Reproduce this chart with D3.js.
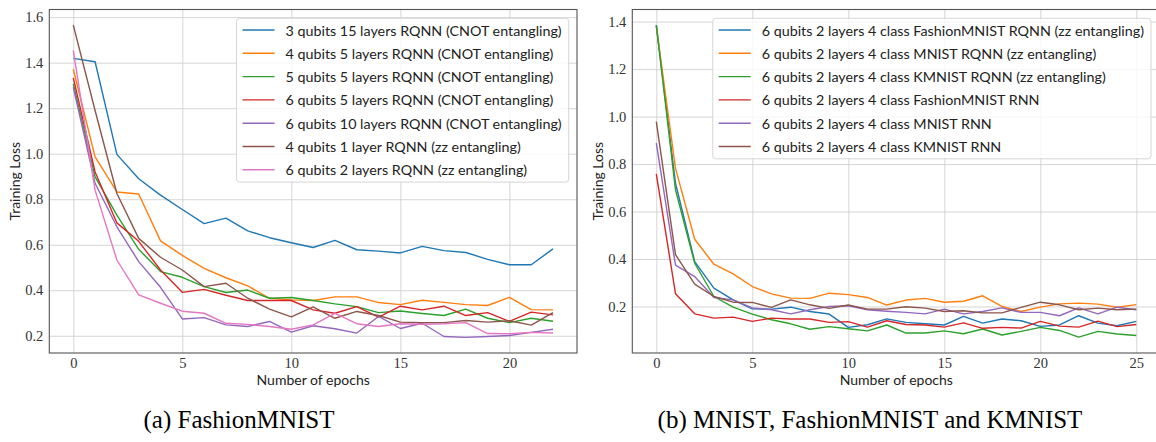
<!DOCTYPE html>
<html><head><meta charset="utf-8">
<script src="https://cdn.jsdelivr.net/npm/d3@7"></script>
<style>body{margin:0;background:#fff}svg{display:block}</style>
</head><body><svg id="c" width="1156" height="442"></svg>
<script>
// ---------- Data: panel (a) FashionMNIST ----------
const epochsA = [0,1,2,3,4,5,6,7,8,9,10,11,12,13,14,15,16,17,18,19,20,21,22];
const seriesNamesA = [
  "3 qubits 15 layers RQNN (CNOT entangling)",
  "4 qubits 5 layers RQNN (CNOT entangling)",
  "5 qubits 5 layers RQNN (CNOT entangling)",
  "6 qubits 5 layers RQNN (CNOT entangling)",
  "6 qubits 10 layers RQNN (CNOT entangling)",
  "4 qubits 1 layer RQNN (zz entangling)",
  "6 qubits 2 layers RQNN (zz entangling)"
];
const lossA_3q15l = [1.419,1.404,0.997,0.890,0.818,0.755,0.693,0.717,0.661,0.631,0.609,0.588,0.619,0.578,0.572,0.564,0.593,0.574,0.566,0.536,0.512,0.512,0.582];
const lossA_4q5l  = [1.371,0.986,0.832,0.823,0.617,0.553,0.496,0.455,0.419,0.365,0.358,0.355,0.371,0.371,0.346,0.337,0.356,0.347,0.337,0.333,0.369,0.315,0.314];
const lossA_5q5l  = [1.307,0.898,0.730,0.580,0.482,0.457,0.416,0.390,0.401,0.365,0.368,0.355,0.340,0.328,0.302,0.309,0.298,0.289,0.317,0.277,0.258,0.277,0.264];
const lossA_6q5l  = [1.333,0.920,0.696,0.615,0.489,0.391,0.404,0.378,0.355,0.355,0.355,0.314,0.299,0.328,0.282,0.330,0.314,0.330,0.289,0.302,0.263,0.304,0.292];
const lossA_6q10l = [1.292,0.870,0.679,0.526,0.413,0.274,0.280,0.248,0.241,0.263,0.216,0.244,0.231,0.212,0.285,0.232,0.255,0.197,0.193,0.197,0.201,0.215,0.229];
const lossA_4q1lzz= [1.565,1.190,0.825,0.628,0.545,0.489,0.416,0.431,0.365,0.317,0.283,0.327,0.277,0.307,0.289,0.260,0.257,0.258,0.267,0.260,0.266,0.247,0.302];
const lossA_6q2lzz= [1.454,0.840,0.533,0.380,0.343,0.308,0.299,0.255,0.250,0.241,0.229,0.248,0.299,0.253,0.241,0.253,0.251,0.253,0.258,0.210,0.209,0.215,0.212];
const xTicksA = [0,5,10,15,20];
const yTicksA = [0.2,0.4,0.6,0.8,1.0,1.2,1.4,1.6];

// ---------- Data: panel (b) MNIST, FashionMNIST and KMNIST ----------
const epochsB = [0,1,2,3,4,5,6,7,8,9,10,11,12,13,14,15,16,17,18,19,20,21,22,23,24,25];
const seriesNamesB = [
  "6 qubits 2 layers 4 class FashionMNIST RQNN (zz entangling)",
  "6 qubits 2 layers 4 class MNIST RQNN (zz entangling)",
  "6 qubits 2 layers 4 class KMNIST RQNN (zz entangling)",
  "6 qubits 2 layers 4 class FashionMNIST RNN",
  "6 qubits 2 layers 4 class MNIST RNN",
  "6 qubits 2 layers 4 class KMNIST RNN"
];
const lossB_fashionRQNN = [1.385,0.719,0.389,0.277,0.228,0.190,0.189,0.197,0.179,0.168,0.112,0.123,0.148,0.133,0.127,0.122,0.158,0.130,0.147,0.140,0.116,0.122,0.161,0.130,0.119,0.137];
const lossB_mnistRQNN   = [1.380,0.782,0.483,0.378,0.337,0.284,0.253,0.235,0.234,0.256,0.250,0.238,0.206,0.227,0.234,0.218,0.222,0.245,0.200,0.179,0.197,0.211,0.214,0.210,0.197,0.208];
const lossB_kmnistRQNN  = [1.385,0.691,0.382,0.242,0.197,0.168,0.144,0.127,0.104,0.115,0.106,0.097,0.122,0.088,0.088,0.097,0.085,0.105,0.080,0.095,0.112,0.099,0.071,0.095,0.084,0.078];
const lossB_fashionRNN  = [0.759,0.254,0.169,0.151,0.155,0.137,0.151,0.147,0.147,0.133,0.136,0.113,0.140,0.124,0.122,0.113,0.131,0.108,0.112,0.109,0.137,0.117,0.113,0.138,0.115,0.124];
const lossB_mnistRNN    = [0.888,0.374,0.326,0.238,0.228,0.194,0.186,0.169,0.186,0.200,0.203,0.186,0.180,0.175,0.169,0.189,0.169,0.179,0.194,0.175,0.175,0.161,0.194,0.169,0.197,0.186];
const lossB_kmnistRNN   = [0.979,0.418,0.294,0.242,0.218,0.217,0.196,0.228,0.207,0.192,0.206,0.189,0.189,0.199,0.193,0.179,0.182,0.173,0.173,0.196,0.218,0.207,0.186,0.193,0.186,0.189];
const xTicksB = [0,5,10,15,20,25];
const yTicksB = [0.2,0.4,0.6,0.8,1.0,1.2,1.4];

const colors = ["#1f77b4","#ff7f0e","#2ca02c","#d62728","#9467bd","#8c564b","#e377c2"];
const captions = ["(a) FashionMNIST", "(b) MNIST, FashionMNIST and KMNIST"];

const svg = d3.select("#c");
const SERIF = "'Liberation Serif', 'DejaVu Serif', serif";
const SANS = "Lato, 'DejaVu Sans', sans-serif";

function panel(cfg) {
  const x = d3.scaleLinear().domain(cfg.xDomain).range([cfg.left, cfg.right]);
  const y = d3.scaleLinear().domain(cfg.yDomain).range([cfg.bottom, cfg.top]);
  const g = svg.append("g");

  // grid + tick labels
  const xAxis = d3.axisBottom(x).tickValues(cfg.xTicks).tickSize(-(cfg.bottom - cfg.top)).tickPadding(4.5).tickFormat(d3.format("d"));
  const yAxis = d3.axisLeft(y).tickValues(cfg.yTicks).tickSize(-(cfg.right - cfg.left)).tickPadding(6).tickFormat(d3.format(".1f"));
  const gx = g.append("g").attr("transform", `translate(0,${cfg.bottom})`).call(xAxis);
  const gy = g.append("g").attr("transform", `translate(${cfg.left},0)`).call(yAxis);
  [gx, gy].forEach(a => {
    a.select(".domain").remove();
    a.selectAll(".tick line").attr("stroke", "#d0d0d0").attr("stroke-width", 0.9);
    a.selectAll(".tick text").attr("font-family", SERIF).attr("font-size", 14.5).attr("fill", "#333");
  });

  // lines
  const line = d3.line().x((d, i) => x(cfg.epochs[i])).y(d => y(d));
  cfg.series.forEach((s, i) => {
    g.append("path").datum(s).attr("d", line).attr("fill", "none")
      .attr("stroke", colors[i]).attr("stroke-width", 1.4).attr("stroke-linejoin", "round");
  });

  // spines
  g.append("rect").attr("x", cfg.left).attr("y", cfg.top)
    .attr("width", cfg.right - cfg.left).attr("height", cfg.bottom - cfg.top)
    .attr("fill", "none").attr("stroke", "#555").attr("stroke-width", 1.1);

  // axis labels
  g.append("text").attr("x", (cfg.left + cfg.right) / 2).attr("y", cfg.bottom + 31.5)
    .attr("text-anchor", "middle").attr("font-family", SANS).attr("font-size", 14).attr("fill", "#222")
    .text("Number of epochs");
  g.append("text").attr("transform", `translate(${cfg.ylabX},${(cfg.top + cfg.bottom) / 2}) rotate(-90)`)
    .attr("text-anchor", "middle").attr("font-family", SANS).attr("font-size", 14).attr("fill", "#222")
    .text("Training Loss");

  // legend
  const lg = g.append("g");
  const rowH = 23.3;
  const texts = cfg.names.map((n, i) => lg.append("text")
    .attr("x", 0).attr("y", 0).attr("font-family", SANS).attr("font-size", 14.3).attr("fill", "#222")
    .attr("dominant-baseline", "central").text(n));
  const maxW = d3.max(texts, t => t.node().getComputedTextLength());
  const boxW = 49 + maxW + 7;
  const boxH = 12 + rowH * (cfg.names.length - 1) + 12;
  const bx = cfg.legendRight - boxW, by = cfg.top + 8.8;
  lg.insert("rect", ":first-child").attr("x", bx).attr("y", by).attr("width", boxW).attr("height", boxH)
    .attr("rx", 3).attr("fill", "white").attr("fill-opacity", 0.8).attr("stroke", "#d6d6d6").attr("stroke-width", 1);
  cfg.names.forEach((n, i) => {
    const ry = by + 11.7 + i * rowH;
    lg.append("line").attr("x1", bx + 6).attr("x2", bx + 38).attr("y1", ry).attr("y2", ry)
      .attr("stroke", colors[i]).attr("stroke-width", 1.4);
    texts[i].attr("x", bx + 49).attr("y", ry);
  });

  // caption
  svg.append("text").attr("x", cfg.capX).attr("y", 428).attr("text-anchor", "middle")
    .attr("font-family", SERIF).attr("font-size", 25).attr("fill", "#000").text(cfg.caption);
}

panel({
  left: 49.3, right: 577, top: 9.5, bottom: 353,
  xDomain: [-1.1, 23.1], yDomain: [0.1244, 1.6336],
  xTicks: xTicksA, yTicks: yTicksA, epochs: epochsA,
  series: [lossA_3q15l, lossA_4q5l, lossA_5q5l, lossA_6q5l, lossA_6q10l, lossA_4q1lzz, lossA_6q2lzz],
  names: seriesNamesA, legendRight: 568.7, ylabX: 20, capX: 239, caption: captions[0]
});
panel({
  left: 632.3, right: 1160.3, top: 9.5, bottom: 353,
  xDomain: [-1.25, 26.25], yDomain: [0.004, 1.451],
  xTicks: xTicksB, yTicks: yTicksB, epochs: epochsB,
  series: [lossB_fashionRQNN, lossB_mnistRQNN, lossB_kmnistRQNN, lossB_fashionRNN, lossB_mnistRNN, lossB_kmnistRNN],
  names: seriesNamesB, legendRight: 1151, ylabX: 603, capX: 870, caption: captions[1]
});
</script>
</body></html>
